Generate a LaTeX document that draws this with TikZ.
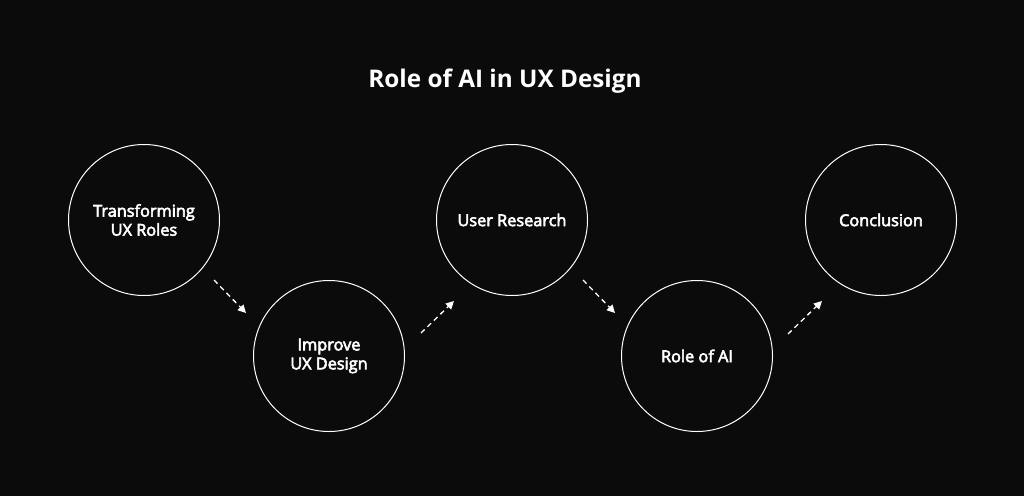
\documentclass[tikz,border=0pt]{standalone}
\usepackage{fontspec}
\setmainfont{Open Sans}
\newfontfamily\labfont{Open Sans}[RawFeature={embolden=3.5}]
\usetikzlibrary{arrows.meta}
\definecolor{bg}{HTML}{0B0B0B}
\tikzset{
  stage/.style={circle, draw=white, line width=1pt, minimum size=151pt, inner sep=0pt,
    text=white, align=center, font=\labfont\fontsize{16.3}{19}\selectfont},
  flow/.style={white, line width=1.3pt, dash pattern=on 5pt off 4pt,
    -{Triangle[length=8pt,width=8pt]}},
  title/.style={text=white, font=\fontsize{24.3}{28}\selectfont\bfseries}
}
\begin{document}
\begin{tikzpicture}[x=1pt,y=-1pt]
\fill[bg] (0,0) rectangle (1024,496);
\useasboundingbox (0,0) rectangle (1024,496);
\node[title] (t) at (505,81) {Role of AI in UX Design};
\node[stage] (n1) at (144,220) {Transforming\\ UX Roles};
\node[stage] (n2) at (329,356) {Improve\\UX Design};
\node[stage] (n3) at (512,220) {User Research};
\node[stage] (n4) at (697,356) {Role of AI};
\node[stage] (n5) at (881,220) {Conclusion};
\coordinate (a1s) at (214,280); \coordinate (a1e) at (246,313);
\coordinate (a2s) at (421,333); \coordinate (a2e) at (454,301);
\coordinate (a3s) at (583,280); \coordinate (a3e) at (615,313);
\coordinate (a4s) at (788,334); \coordinate (a4e) at (822,301);
\draw[flow] (a1s) -- (a1e);
\draw[flow] (a2s) -- (a2e);
\draw[flow] (a3s) -- (a3e);
\draw[flow] (a4s) -- (a4e);
\end{tikzpicture}
\end{document}
